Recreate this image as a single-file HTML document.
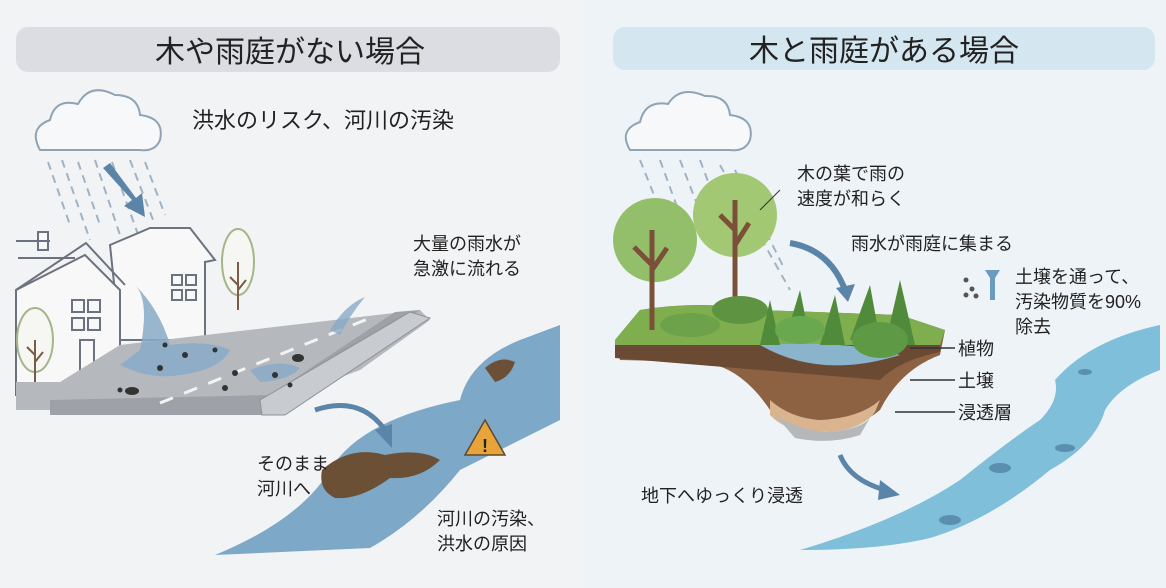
<!DOCTYPE html>
<html><head><meta charset="utf-8"><style>
html,body{margin:0;padding:0;width:1166px;height:588px;overflow:hidden;background:#f3f4f6}
svg{display:block}
text{font-family:"Liberation Sans","Noto Sans CJK JP",sans-serif;fill:#222}
</style></head><body>
<svg width="1166" height="588" viewBox="0 0 1166 588">
<rect x="0" y="0" width="583" height="588" fill="#f2f3f5"/>
<rect x="583" y="0" width="583" height="588" fill="#eef3f7"/>
<rect x="16" y="27" width="544" height="45" rx="12" fill="#dcdde2"/>
<text x="290" y="62" font-size="30" text-anchor="middle">木や雨庭がない場合</text>
<rect x="613" y="27" width="542" height="43" rx="12" fill="#d4e6ef"/>
<text x="884" y="61" font-size="30" text-anchor="middle">木と雨庭がある場合</text>

<text x="192" y="128" font-size="22">洪水のリスク、河川の汚染</text>
<path d="M40 150 Q28 128 50 120 Q55 98 78 104 Q90 82 115 95 Q138 95 140 115 Q165 118 160 140 Q155 152 140 150 Z" fill="#f7f8fa" stroke="#8fa3b4" stroke-width="2"/>
<g stroke="#9fb3c4" stroke-width="2" stroke-dasharray="8 6">
<line x1="48" y1="162" x2="70" y2="225"/><line x1="62" y1="160" x2="90" y2="240"/><line x1="78" y1="162" x2="100" y2="225"/><line x1="95" y1="160" x2="120" y2="235"/><line x1="112" y1="162" x2="140" y2="240"/><line x1="130" y1="160" x2="155" y2="225"/><line x1="145" y1="162" x2="165" y2="215"/>
</g>
<path d="M103 168 L132 200 L124 206 L145 217 L142 193 L136 198 L110 163 Z" fill="#5b85a8"/>
<g fill="#f8f8f8" stroke="#6b7280" stroke-width="2">
<path d="M110 245 L150 228 L190 228 L215 260 L205 262 L205 340 L120 340 Z"/>
<path d="M16 290 L16 395 L120 395 L120 290 L85 255 Z"/>
<path d="M75 258 L18 258" fill="none"/>
<path d="M16 290 L86 243 L125 285" fill="none"/>
<rect x="38" y="232" width="10" height="18"/><line x1="16" y1="241" x2="50" y2="241"/>
</g>
<g fill="none" stroke="#6b7280" stroke-width="2">
<rect x="72" y="300" width="12" height="12"/><rect x="88" y="300" width="12" height="12"/><rect x="72" y="318" width="12" height="12"/><rect x="88" y="318" width="12" height="12"/>
<rect x="80" y="340" width="14" height="30"/>
<rect x="172" y="275" width="10" height="10"/><rect x="186" y="275" width="10" height="10"/><rect x="172" y="290" width="10" height="10"/><rect x="186" y="290" width="10" height="10"/>
</g>
<ellipse cx="238" cy="262" rx="16" ry="33" fill="#f6f7f2" stroke="#a4b58a" stroke-width="2"/>
<path d="M238 310 V262 M238 285 l-8 -8 M238 290 l8 -10" stroke="#7a5b45" stroke-width="2" fill="none"/>
<ellipse cx="35" cy="340" rx="18" ry="32" fill="#f6f7f2" stroke="#a4b58a" stroke-width="2"/>
<path d="M35 390 V340 M35 355 l-8 -8 M35 362 l8 -10" stroke="#7a5b45" stroke-width="2" fill="none"/>
<path d="M16 382 L60 382 L120 345 L420 310 L430 320 L360 370 L280 400 L50 410 L16 410 Z" fill="#b5b8bd"/>
<path d="M50 400 L270 395 L395 312 L420 310 L290 400 L270 415 L50 415 Z" fill="#9ea2a8"/>
<path d="M260 400 L410 312 L430 318 L285 415 L262 415 Z" fill="#c8cbcf" stroke="#8e9298"/>
<g stroke="#f3f3f3" stroke-width="3" stroke-dasharray="14 12"><line x1="160" y1="403" x2="370" y2="318"/></g>
<path d="M140 350 Q150 300 135 285 Q160 310 170 345 Q210 340 230 350 Q220 370 180 375 Q150 380 120 365 Z" fill="#88aac8" opacity="0.85"/>
<path d="M250 370 Q280 358 300 368 Q290 380 260 382 Z" fill="#88aac8" opacity="0.8"/>
<path d="M330 330 Q345 305 365 297 Q350 315 340 335 Z" fill="#88aac8" opacity="0.8"/>
<g fill="#333"><circle cx="165" cy="345" r="2.5"/><circle cx="185" cy="355" r="3"/><circle cx="160" cy="368" r="3"/><circle cx="215" cy="350" r="2.5"/><circle cx="120" cy="390" r="2.5"/><ellipse cx="132" cy="391" rx="7" ry="4"/><circle cx="235" cy="373" r="3"/><circle cx="275" cy="375" r="3"/><circle cx="290" cy="385" r="2.5"/><ellipse cx="298" cy="358" rx="6" ry="4"/><circle cx="225" cy="388" r="3"/></g>
<path d="M215 555 Q300 520 330 470 Q360 420 460 400 Q470 360 520 340 L560 325 L560 420 Q520 440 460 470 Q420 520 370 548 Z" fill="#7ea8c7"/>
<path d="M322 470 Q350 445 385 455 Q420 448 440 460 Q420 480 390 478 Q360 500 335 498 Q318 490 322 470 Z" fill="#6b5036"/>
<path d="M485 368 Q500 355 515 362 Q510 378 495 382 Z" fill="#6b5036"/>
<path d="M465 455 L485 420 L505 455 Z" fill="#e8a33a" stroke="#5a4a30" stroke-width="1.5"/>
<text x="485" y="452" font-size="18" text-anchor="middle" font-weight="bold">!</text>
<path d="M315 410 Q360 395 385 430" fill="none" stroke="#5b85a8" stroke-width="5"/>
<path d="M375 430 L392 448 L392 424 Z" fill="#5b85a8"/>
<text x="413" y="250" font-size="18">大量の雨水が</text>
<text x="413" y="275" font-size="18">急激に流れる</text>
<text x="257" y="470" font-size="18">そのまま</text>
<text x="257" y="495" font-size="18">河川へ</text>
<text x="437" y="525" font-size="18">河川の汚染、</text>
<text x="437" y="550" font-size="18">洪水の原因</text>

<path d="M630 150 Q618 130 640 122 Q645 100 668 104 Q680 85 705 96 Q728 95 730 115 Q755 118 750 140 Q745 152 730 150 Z" fill="#f7f8fa" stroke="#8fa3b4" stroke-width="2"/>
<g stroke="#9fb3c4" stroke-width="2" stroke-dasharray="8 6">
<line x1="640" y1="160" x2="660" y2="210"/><line x1="660" y1="160" x2="680" y2="215"/><line x1="680" y1="160" x2="705" y2="225"/><line x1="700" y1="160" x2="730" y2="240"/><line x1="720" y1="165" x2="790" y2="290"/><line x1="735" y1="170" x2="785" y2="270"/>
</g>
<path d="M615 340 L640 310 Q700 300 760 310 L900 315 L945 330 L940 355 Q900 370 880 410 Q860 428 820 428 Q785 428 770 410 Q740 365 700 362 L620 360 Z" fill="#8c6242"/>
<path d="M770 400 Q790 418 820 420 Q860 418 880 400 L875 412 Q860 432 820 432 Q785 432 770 415 Z" fill="#d9b48e"/>
<path d="M775 415 Q800 430 825 432 Q860 430 870 418 L860 435 Q830 445 795 438 Z" fill="#b5b7b9"/>
<path d="M615 340 L640 310 Q700 300 760 310 L900 315 L945 330 L940 345 L615 350 Z" fill="#7fae4e"/>
<path d="M615 345 L940 345 L940 352 Q900 360 880 380 L760 370 L615 358 Z" fill="#6a4a32"/>
<path d="M760 345 Q820 380 900 355 Q850 340 760 345 Z" fill="#89b4cb"/>
<circle cx="655" cy="240" r="42" fill="#93bf6a"/>
<circle cx="735" cy="215" r="42" fill="#a2c874"/>
<path d="M652 330 V230 M652 265 l-18 -18 M652 270 l15 -22" stroke="#7a5138" stroke-width="5" fill="none"/>
<path d="M735 305 V200 M735 230 l-15 -15 M735 245 l14 -22" stroke="#7a5138" stroke-width="5" fill="none"/>
<ellipse cx="740" cy="310" rx="28" ry="14" fill="#5d9341"/>
<ellipse cx="690" cy="325" rx="30" ry="12" fill="#6da14a"/>
<g fill="#4f8b3a">
<path d="M760 345 L770 300 L780 345 Z"/><path d="M785 340 L800 290 L810 340 Z"/><path d="M820 345 L835 295 L845 345 Z"/>
<path d="M850 340 L870 285 L880 340 Z"/><path d="M885 345 L900 280 L915 345 Z"/>
</g>
<ellipse cx="880" cy="340" rx="28" ry="18" fill="#5e9a46"/>
<ellipse cx="800" cy="330" rx="25" ry="14" fill="#6aa850"/>
<path d="M790 243 Q830 250 845 290" fill="none" stroke="#5b85a8" stroke-width="6"/>
<path d="M836 288 L848 302 L855 284 Z" fill="#5b85a8"/>
<path d="M840 455 Q850 480 885 490" fill="none" stroke="#5b85a8" stroke-width="5"/>
<path d="M880 480 L900 495 L878 500 Z" fill="#5b85a8"/>
<path d="M800 550 Q900 520 960 480 Q1010 440 1040 420 Q1060 400 1055 380 Q1090 340 1160 325 L1160 370 Q1120 385 1105 410 Q1095 445 1050 470 Q990 520 930 538 Q880 550 800 550 Z" fill="#7fbfd9"/>
<g fill="#5a8fb0"><ellipse cx="1000" cy="468" rx="11" ry="5"/><ellipse cx="950" cy="520" rx="11" ry="5"/><ellipse cx="1065" cy="448" rx="10" ry="4"/><ellipse cx="1085" cy="372" rx="7" ry="3"/></g>
<path d="M985 270 L1000 270 L995 278 V300 H990 V278 Z" fill="#6a9cc0"/>
<g fill="#555"><circle cx="966" cy="280" r="2.5"/><circle cx="972" cy="289" r="2.5"/><circle cx="966" cy="295" r="2.5"/><circle cx="976" cy="296" r="2.5"/></g>
<text x="797" y="180" font-size="18">木の葉で雨の</text>
<text x="797" y="205" font-size="18">速度が和らく</text>
<line x1="780" y1="190" x2="760" y2="210" stroke="#333"/>
<text x="851" y="250" font-size="18">雨水が雨庭に集まる</text>
<text x="1015" y="283" font-size="18">土壌を通って、</text>
<text x="1015" y="308" font-size="18">汚染物質を90%</text>
<text x="1015" y="333" font-size="18">除去</text>
<line x1="910" y1="348" x2="955" y2="348" stroke="#333" stroke-width="1.5"/>
<text x="958" y="355" font-size="18">植物</text>
<line x1="910" y1="380" x2="955" y2="380" stroke="#333" stroke-width="1.5"/>
<text x="958" y="387" font-size="18">土壌</text>
<line x1="895" y1="412" x2="955" y2="412" stroke="#333" stroke-width="1.5"/>
<text x="958" y="419" font-size="18">浸透層</text>
<text x="641" y="502" font-size="18">地下へゆっくり浸透</text>
</svg>
</body></html>
